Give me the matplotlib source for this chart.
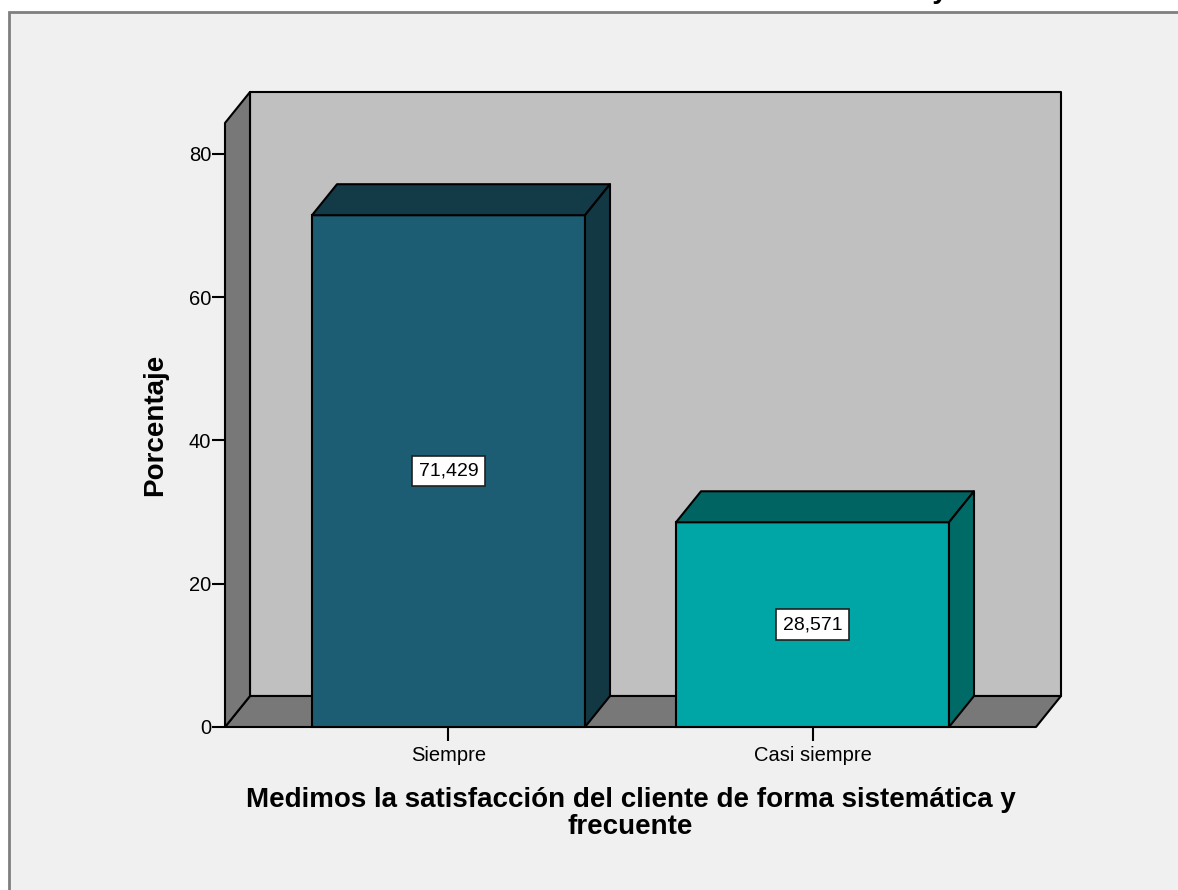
import matplotlib
matplotlib.use('Agg')
import matplotlib.pyplot as plt
from matplotlib.patches import Polygon, Rectangle

categorias = ['Siempre', 'Casi siempre']
porcentajes = [71.429, 28.571]
etiquetas = ['71,429', '28,571']
ticks_y = [0, 20, 40, 60, 80]

color_frente = ['#1d5d73', '#00a5a5']
color_lado = ['#123844', '#006a67']
color_techo = ['#133a47', '#006562']

plt.rcParams['font.family'] = ['Liberation Sans', 'DejaVu Sans']

fig = plt.figure(figsize=(11.78, 8.9), dpi=100)
fig.patch.set_facecolor('white')

# marco gris del grafico
fig.patches.append(Rectangle((9 / 1178, -0.5), 1.5, (890 - 12) / 890 + 0.5,
                             transform=fig.transFigure, facecolor='#f0f0f0',
                             edgecolor='#7f7f7f', linewidth=2, zorder=-1))

# titulo (queda fuera del borde superior)
fig.text(948 / 1178, 1 + 2 / 890, 'Medimos la satisfacción del cliente de forma sistemática y',
         ha='right', va='baseline', fontsize=20, fontweight='bold')

ax = fig.add_axes([225 / 1178, 1 - 727 / 890, (1036 - 225) / 1178, (727 - 123) / 890])
ax.set_zorder(2)
ax.patch.set_visible(False)
for s in ax.spines.values():
    s.set_visible(False)

x = list(range(len(categorias)))
ancho = 0.75
xmin, xmax = -0.614, len(categorias) - 1 + 0.614
ymax = 84.3
ax.set_xlim(xmin, xmax)
ax.set_ylim(0, ymax)

# profundidad 3D en pixeles -> unidades de datos
px_x = ax.transData.transform((1, 0))[0] - ax.transData.transform((0, 0))[0]
px_y = ax.transData.transform((0, 1))[1] - ax.transData.transform((0, 0))[1]
dx = 25 / px_x
dy = 31 / px_y

def cara(pts, color, z):
    ax.add_patch(Polygon(pts, closed=True, facecolor=color, edgecolor='black',
                         linewidth=1.5, clip_on=False, zorder=z, joinstyle='round'))

# paredes y piso
cara([(xmin + dx, dy), (xmax + dx, dy), (xmax + dx, ymax + dy), (xmin + dx, ymax + dy)], '#c0c0c0', 1)
cara([(xmin, 0), (xmax, 0), (xmax + dx, dy), (xmin + dx, dy)], '#787878', 1.5)
cara([(xmin, 0), (xmin, ymax), (xmin + dx, ymax + dy), (xmin + dx, dy)], '#787878', 1.5)

# barras
for i, v in enumerate(porcentajes):
    izq, der = x[i] - ancho / 2, x[i] + ancho / 2
    ax.bar(x[i], v, width=ancho, color=color_frente[i], edgecolor='black',
           linewidth=1.5, zorder=3, clip_on=False)
    cara([(izq, v), (der, v), (der + dx, v + dy), (izq + dx, v + dy)], color_techo[i], 3)
    cara([(der, 0), (der, v), (der + dx, v + dy), (der + dx, dy)], color_lado[i], 3)
    ax.text(x[i], v / 2, etiquetas[i], ha='center', va='center', fontsize=14, zorder=5,
            bbox=dict(boxstyle='square,pad=0.35', facecolor='white', edgecolor='#202020', linewidth=1.2))

ax.set_yticks(ticks_y)
ax.set_xticks(x)
ax.set_xticklabels(categorias)
ax.tick_params(axis='y', direction='out', length=9.5, width=1.5, labelsize=14.5, pad=0.5)
ax.tick_params(axis='x', direction='out', length=10, width=1.5, labelsize=14.5, pad=4)

ax.set_ylabel('Porcentaje', fontsize=20, fontweight='bold')
ax.yaxis.set_label_coords(-0.070, 0.5)
ax.set_xlabel('Medimos la satisfacción del cliente de forma sistemática y\nfrecuente',
              fontsize=20, fontweight='bold', linespacing=1.05)
ax.xaxis.set_label_coords(0.5, -0.1)
ax.xaxis.label.set_va('top')

fig.savefig('out.png', dpi=100)
